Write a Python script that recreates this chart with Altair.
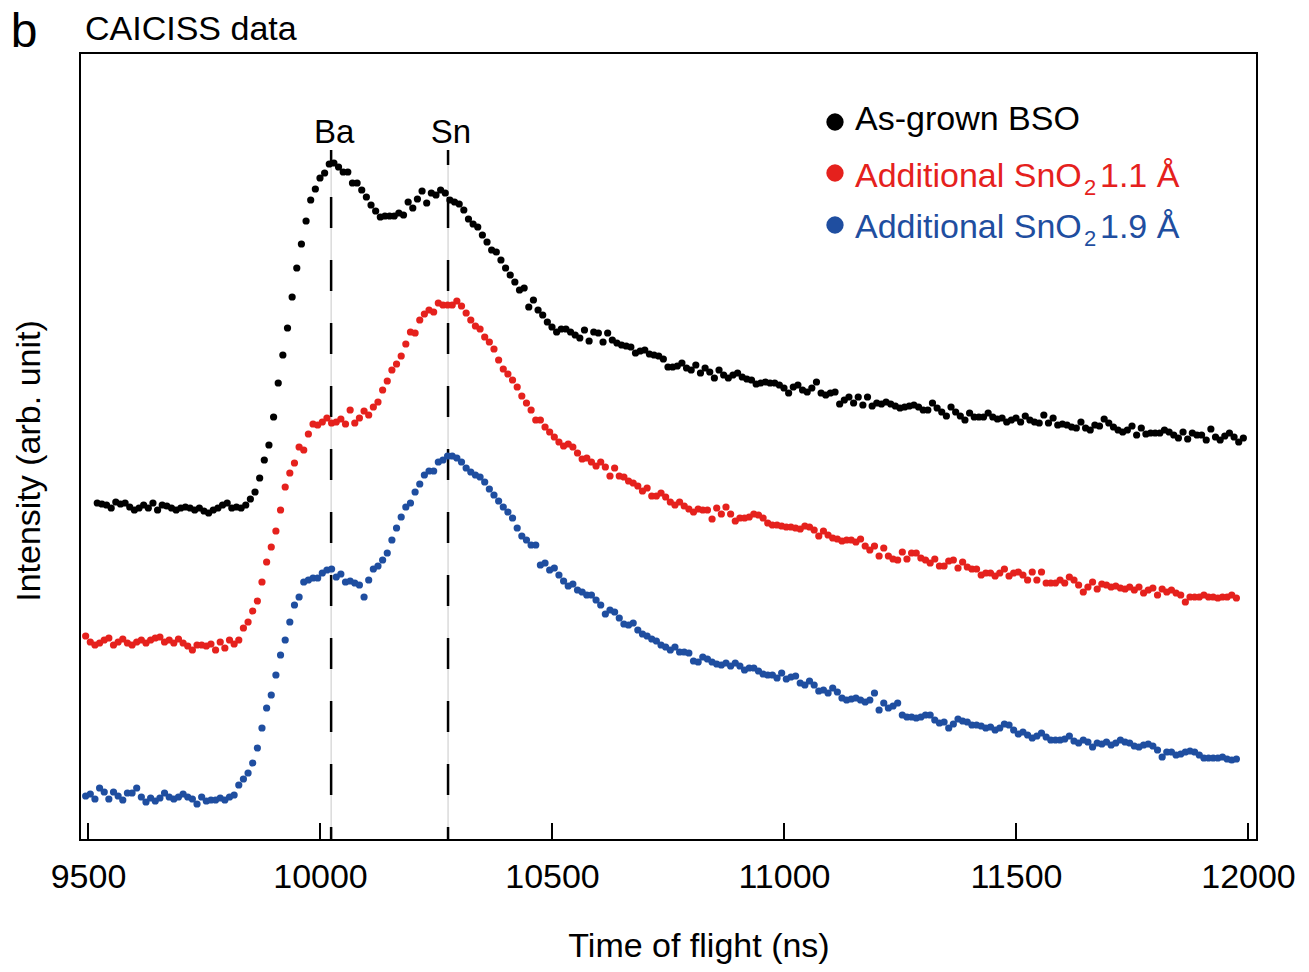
import altair as alt
import pandas as pd

FONT = "Liberation Sans, Arial, sans-serif"

# ---------------- data ----------------
series_names = ["As-grown BSO", "Additional SnO2 1.1 Å", "Additional SnO2 1.9 Å"]
series_colors = ["#000000", "#e5211d", "#1f4ea0"]
series_start = [9520, 9495, 9495]   # first channel time (ns)
channel_step = 10                    # ns per channel

black = [337, 336, 335, 332, 338, 336, 337, 333, 330, 332,
         335, 332, 337, 330, 335, 334, 332, 330, 332, 333,
         332, 330, 332, 329, 327, 330, 332, 335, 337, 332,
         333, 332, 335, 341, 348, 362, 380, 395,
         423, 457, 485, 512, 543, 572, 596, 619, 640, 651,
         662, 667, 676, 677, 673, 668, 668, 657, 657, 650,
         643, 635, 629, 623, 624, 624, 624, 627, 625, 638,
         632, 641, 649, 637, 647, 645, 650, 647, 640, 638,
         636, 630, 621, 616, 613, 605, 598, 590, 588, 580,
         572, 565, 558, 550,
         552, 533, 540, 530, 525, 518, 513, 508,
         511, 511, 508, 505, 502, 510, 499, 508, 507, 498,
         507, 500, 497, 495, 494, 493, 487, 489, 490, 486,
         485, 484, 481, 473, 473, 474, 477, 472, 470, 475,
         467, 472, 468, 462, 470, 465, 462, 465, 467, 463,
         461, 460, 456, 457, 458, 457, 457, 455, 452, 447,
         453, 455, 450, 448, 452, 458, 447, 445, 447, 448,
         436, 440, 443, 437, 443, 435, 443, 434, 437, 436,
         438, 436, 434, 432, 433, 434, 435, 433, 430, 430,
         437, 432, 428, 424, 433, 428, 424, 420, 427, 423,
         423, 423, 427, 423, 421, 422, 418, 420, 422, 418,
         424, 420, 418, 417, 425, 417, 422, 415, 416, 415,
         413, 412, 418, 412, 410, 415, 414, 421, 417, 413,
         410, 408, 410, 414, 405, 412, 406, 407, 407, 407,
         410, 408, 405, 402, 408, 401, 407, 405, 405, 400,
         411, 403, 400, 404, 407, 403, 398, 402]

red = [204, 198, 195, 197, 200, 202, 195, 198, 201, 197,
       195, 198, 200, 197, 200, 202, 203, 198, 200, 197,
       201, 197, 194, 190, 195, 195, 194, 196, 190, 198,
       192, 200, 196, 200, 212, 218, 229, 239, 258, 278,
       293, 309, 330, 353, 367, 377, 393, 390, 406, 416,
       415, 418, 422, 417, 418, 421, 416, 430, 417, 422,
       429, 425, 433, 438, 450, 459, 470, 476, 484, 496,
       508, 507, 520, 526, 530, 528, 537, 535, 535, 535,
       539, 534, 527, 520, 514, 511, 503, 498, 491, 480,
       471, 466, 460, 453, 444, 437, 430, 420, 420, 413,
       408, 403, 398, 394, 396, 393, 387, 381, 382, 378,
       374, 378, 373, 364, 372, 364, 363, 359, 357, 354,
       349, 352, 344, 344, 347, 343, 338, 335, 338, 334,
       331, 328, 331, 330, 330, 321, 332, 326, 333, 326,
       319, 322, 322, 323, 326, 325, 322, 317, 315, 315,
       314, 313, 313, 312, 311, 314, 313, 310, 304, 309,
       305, 302, 301, 299, 300, 300, 298, 301, 294, 290,
       294, 284, 292, 284, 281, 280, 288, 281, 287, 287,
       282, 280, 277, 281, 274, 274, 279, 280, 272, 278,
       273, 271, 271, 265, 267, 267, 264, 267, 271, 264,
       267, 268, 265, 260, 268, 260, 268, 257, 257, 257,
       260, 257, 263, 260, 255, 248, 253, 258, 251, 256,
       255, 253, 254, 252, 251, 253, 250, 253, 247, 250,
       252, 245, 251, 248, 250, 247, 245, 238, 243, 243,
       243, 245, 243, 243, 242, 243, 243, 245, 242]

blue = [44, 46, 41, 52, 48, 41, 48, 44, 40, 47,
        47, 52, 43, 38, 42, 39, 42, 47, 43, 41,
        43, 46, 43, 41, 36, 43, 39, 40, 40, 42,
        40, 43, 45, 55, 61, 67, 77, 92, 112, 132,
        145, 165, 185, 200, 218, 235, 243, 258, 260, 262,
        262, 267, 270, 271, 263, 266, 258, 259, 257, 255,
        243, 260, 271, 274, 280, 287, 300, 312, 323, 333,
        337, 348, 356, 365, 369, 369, 378, 380, 384, 384,
        382, 378, 372, 368, 365, 363, 358, 351, 345, 339,
        333, 328, 322, 312, 304, 300, 295, 295, 275, 277,
        270, 272, 265, 259, 254, 256, 250, 248, 245, 245,
        240, 235, 226, 230, 228, 222, 216, 215, 217, 210,
        206, 204, 201, 199, 195, 193, 190, 193, 188, 188,
        187, 179, 178, 183, 181, 178, 176, 175, 177, 174,
        177, 174, 170, 172, 172, 169, 166, 165, 165, 162,
        167, 161, 163, 164, 157, 155, 159, 155, 149, 150,
        147, 152, 148, 142, 140, 141, 142, 140, 138, 140,
        147, 130, 137, 132, 134, 137, 125, 123, 123, 122,
        123, 125, 125, 120, 117, 118, 112, 116, 121, 119,
        118, 115, 115, 114, 112, 113, 110, 112, 116, 115,
        110, 106, 108, 105, 102, 104, 107, 103, 100, 100,
        100, 101, 104, 99, 97, 100, 98, 93, 97, 96,
        98, 95, 97, 100, 98, 97, 94, 93, 95, 96,
        94, 90, 83, 88, 88, 85, 86, 88, 89, 88,
        85, 82, 82, 82, 82, 83, 81, 80, 81]

x_ticks = [9500, 10000, 10500, 11000, 11500, 12000]
peak_names = ["Ba", "Sn"]
peak_times = [10024, 10276]

# ---------------- tables ----------------
rows = []
for name, start, vals in zip(series_names, series_start, [black, red, blue]):
    for i, v in enumerate(vals):
        rows.append({"t": start + channel_step * i, "I": v, "s": name})
df = pd.DataFrame(rows)
tick_df = pd.DataFrame({"t": x_ticks})
peak_df = pd.DataFrame({"t": peak_times, "name": peak_names})
one = pd.DataFrame({"a": [0]})

xs = alt.Scale(domain=[9482.8, 12019.4], nice=False, zero=False)
ys = alt.Scale(domain=[0, 787], nice=False, zero=False)


def X():
    return alt.X("t:Q", scale=xs, title="",
                 axis=alt.Axis(values=x_ticks, ticks=False, domain=False, grid=False,
                               labelFontSize=34, labelFont=FONT, labelColor="black",
                               labelPadding=20, labelFlush=False, format="d", title=""))


points = alt.Chart(df).mark_circle(size=52, opacity=1).encode(
    x=X(),
    y=alt.Y("I:Q", scale=ys, axis=None),
    color=alt.Color("s:N", scale=alt.Scale(domain=series_names, range=series_colors), legend=None),
)

ticks = alt.Chart(tick_df).mark_rule(color="black", strokeWidth=2).encode(
    x=X(), y=alt.value(787), y2=alt.value(770))

gray_lines = alt.Chart(peak_df).mark_rule(color="#c8c8c8", strokeWidth=1).encode(
    x=X(), y=alt.value(97), y2=alt.value(787))

dash_lines = alt.Chart(peak_df).mark_rule(color="black", strokeWidth=2.5,
                                          strokeDash=[31, 32], strokeDashOffset=16).encode(
    x=X(), y=alt.value(97), y2=alt.value(787))

peak_labels = alt.Chart(peak_df).mark_text(fontSize=33, font=FONT, color="black",
                                           align="center", baseline="alphabetic", dx=3).encode(
    x=X(), y=alt.value(90), text="name:N")


def txt(text, x, y, size, color="black", align="left", angle=0):
    return alt.Chart(one).mark_text(text=text, fontSize=size, font=FONT, color=color,
                                    align=align, baseline="alphabetic", angle=angle).encode(
        x=alt.value(x), y=alt.value(y))


def dot(x, y, color):
    return alt.Chart(one).mark_circle(size=300, opacity=1, color=color).encode(
        x=alt.value(x), y=alt.value(y))


annotations = [
    txt("b", -56, -6, 48, align="center"),
    txt("CAICISS data", 5, -13, 34),
    txt("Intensity (arb. unit)", -40, 408, 34, align="center", angle=270),
    txt("Time of flight (ns)", 619, 904, 34, align="center"),
    dot(755, 69, series_colors[0]),
    txt("As-grown BSO", 775, 77, 34, series_colors[0]),
    dot(755, 120, series_colors[1]),
    txt("Additional SnO", 775, 134, 34, series_colors[1]),
    txt("2", 1004, 142, 22, series_colors[1]),
    txt("1.1 Å", 1020, 134, 34, series_colors[1]),
    dot(755, 172, series_colors[2]),
    txt("Additional SnO", 775, 185, 34, series_colors[2]),
    txt("2", 1004, 193, 22, series_colors[2]),
    txt("1.9 Å", 1020, 185, 34, series_colors[2]),
]

chart = alt.layer(gray_lines, dash_lines, ticks, points, peak_labels, *annotations).properties(
    width=1177, height=787,
    padding={"left": 80, "top": 53, "right": 52, "bottom": 132},
    autosize=alt.AutoSizeParams(type="none"),
).configure_view(stroke="black", strokeWidth=2)

chart.save("out.html", embed_options={"renderer": "svg", "actions": False})
